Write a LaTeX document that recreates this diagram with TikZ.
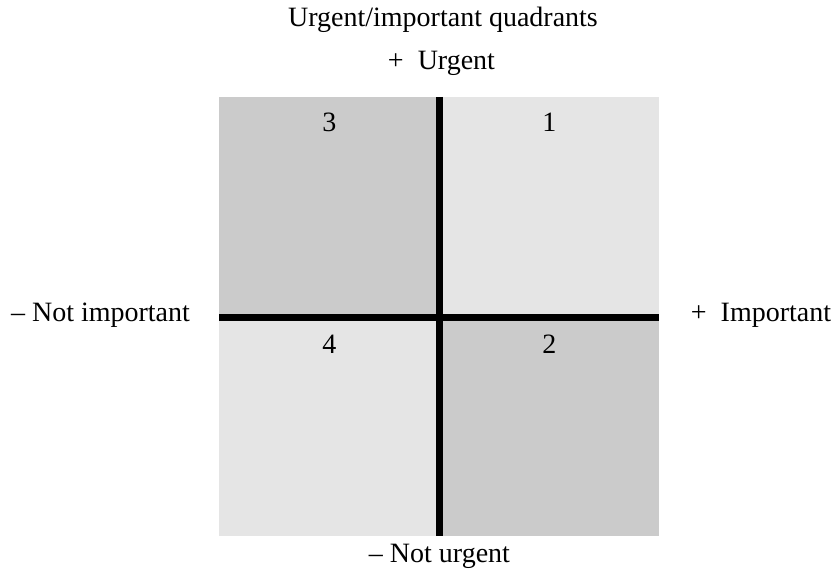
\documentclass[tikz,border=0pt]{standalone}
\usepackage{fontspec}
\setmainfont{Liberation Serif}
\usepackage{tikz}

\definecolor{darkq}{RGB}{203,203,203}
\definecolor{lightq}{RGB}{229,229,229}

\begin{document}
\begin{tikzpicture}[x=1pt,y=1pt,
    quad/.style={inner sep=0pt,outer sep=0pt,minimum height=#1},
    axis/.style={line width=7pt},
    lbl/.style={inner sep=0pt,anchor=base,font=\fontsize{28}{34}\selectfont}]
\useasboundingbox (0,0) rectangle (833,576);
\coordinate (c) at (439.5,258);
% the four quadrants
\node[quad=221pt,minimum width=220.5pt,anchor=south east,fill=darkq] (q3) at (c) {};
\node[quad=221pt,minimum width=219.5pt,anchor=south west,fill=lightq] (q1) at (c) {};
\node[quad=218pt,minimum width=220.5pt,anchor=north east,fill=lightq] (q4) at (c) {};
\node[quad=218pt,minimum width=219.5pt,anchor=north west,fill=darkq] (q2) at (c) {};
\draw[axis] (q3.north east) -- (q4.south east);
\draw[axis] (q3.south west) -- (q1.south east);
% numbers
\node[lbl] (n3) at ([yshift=-35pt]q3.north) {3};
\node[lbl] (n1) at ([yshift=-35pt]q1.north) {1};
\node[lbl] (n4) at ([yshift=-36pt]q4.north) {4};
\node[lbl] (n2) at ([yshift=-36pt]q2.north) {2};
% labels
\node[lbl] (title) at (443,549) {Urgent/important quadrants};
\node[lbl] (urg) at (441.5,506) {+~~Urgent};
\node[lbl] (nimp) at (100.5,254) {– Not important};
\node[lbl] (imp) at (761,254) {+~ Important};
\node[lbl] (nurg) at (439.5,14) {– Not urgent};
\end{tikzpicture}
\end{document}
